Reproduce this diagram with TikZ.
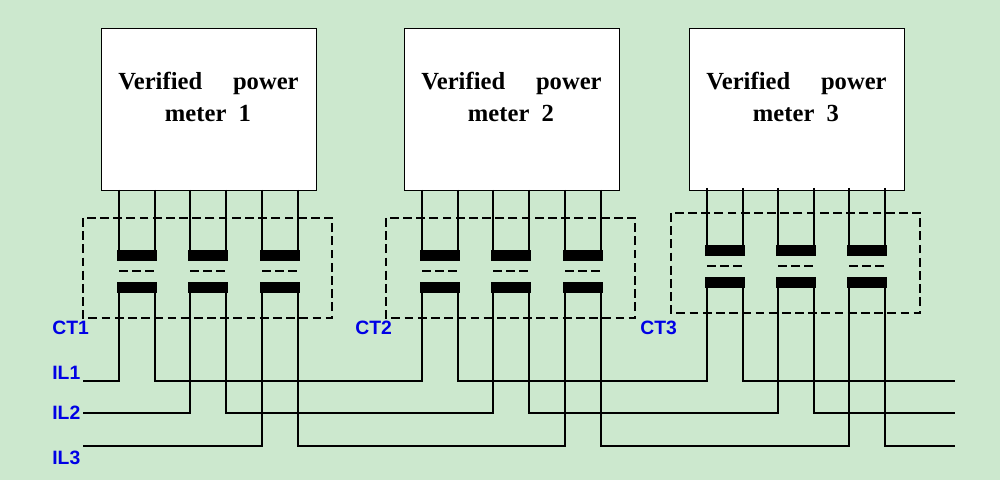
\documentclass[tikz,border=0pt]{standalone}
\usepackage{fontspec}
\setmainfont{Liberation Serif}
\newfontfamily\lsans{Liberation Sans}
\begin{document}
\begin{tikzpicture}[x=0.2mm,y=-0.2mm,
  meter/.style={draw=black,fill=white,line width=0.7pt,minimum width=43mm,minimum height=32.4mm,inner sep=0pt},
  mtext/.style={font=\fontsize{14}{17}\selectfont\bfseries,inner sep=0pt},
  wire/.style={line width=0.7pt},
  bar/.style={fill=black},
  ctbox/.style={draw=black,dash pattern=on 5pt off 2.5pt,line width=0.7pt},
  lab/.style={font=\lsans\fontsize{11}{13}\selectfont\bfseries,text=blue!90!black,inner sep=0pt}]
\fill[fill={rgb,255:red,204;green,232;blue,206}] (0,0) rectangle (1000,480);
\useasboundingbox (0,0) rectangle (1000,480);
\foreach \m/\lx/\dy in {1/101/0, 2/404/0, 3/689/-5}{
  \node[meter,anchor=north west] (M\m) at (\lx,28) {};
  \node[mtext,anchor=base west] at (\lx+17,90) {Verified};
  \node[mtext,anchor=base east] at (\lx+198,90) {power};
  \node[mtext,anchor=base] at (\lx+107,122) {meter\ \ \m};
  \draw[ctbox] (\lx-18,218+\dy) rectangle (\lx+231,318+\dy);
  \node[lab,anchor=base west] (CT\m) at (\lx-49,334) {CT\m};
}
\foreach \k/\xl/\dy/\top in {0/119/0/190,1/190/0/190,2/262/0/190,3/422/0/190,4/493/0/190,5/565/0/190,6/707/-5/188,7/778/-5/188,8/849/-5/188}{
  \pgfmathsetmacro\xr{\xl+36}
  \coordinate (L\k) at (\xl,\top);
  \coordinate (R\k) at (\xr,\top);
  \fill[bar] (\xl-2,250+\dy) rectangle (\xr+2,261+\dy);
  \fill[bar] (\xl-2,282+\dy) rectangle (\xr+2,293+\dy);
  \draw[wire,dash pattern=on 5pt off 2.5pt] (\xl,271+\dy) -- (\xr,271+\dy);
  \draw[wire] (L\k) -- (\xl,250+\dy);
  \draw[wire] (R\k) -- (\xr,250+\dy);
  \coordinate (BL\k) at (\xl,293+\dy);
  \coordinate (BR\k) at (\xr,293+\dy);
}
\coordinate (S0) at (83,381);
\coordinate (S1) at (83,413);
\coordinate (S2) at (83,446);
\node[lab,anchor=base west] (IL1) at (52,379) {IL1};
\node[lab,anchor=base west] (IL2) at (52,419) {IL2};
\node[lab,anchor=base west] (IL3) at (52,464) {IL3};
\foreach \p/\y in {0/381,1/413,2/446}{
  \pgfmathtruncatemacro\a{\p}\pgfmathtruncatemacro\b{\p+3}\pgfmathtruncatemacro\c{\p+6}
  \coordinate (E\p) at (955,\y);
  \draw[wire] (S\p) -| (BL\a);
  \draw[wire] (BR\a) |- (BL\b |- S\p) -- (BL\b);
  \draw[wire] (BR\b) |- (BL\c |- S\p) -- (BL\c);
  \draw[wire] (BR\c) |- (E\p);
}
\end{tikzpicture}
\end{document}
